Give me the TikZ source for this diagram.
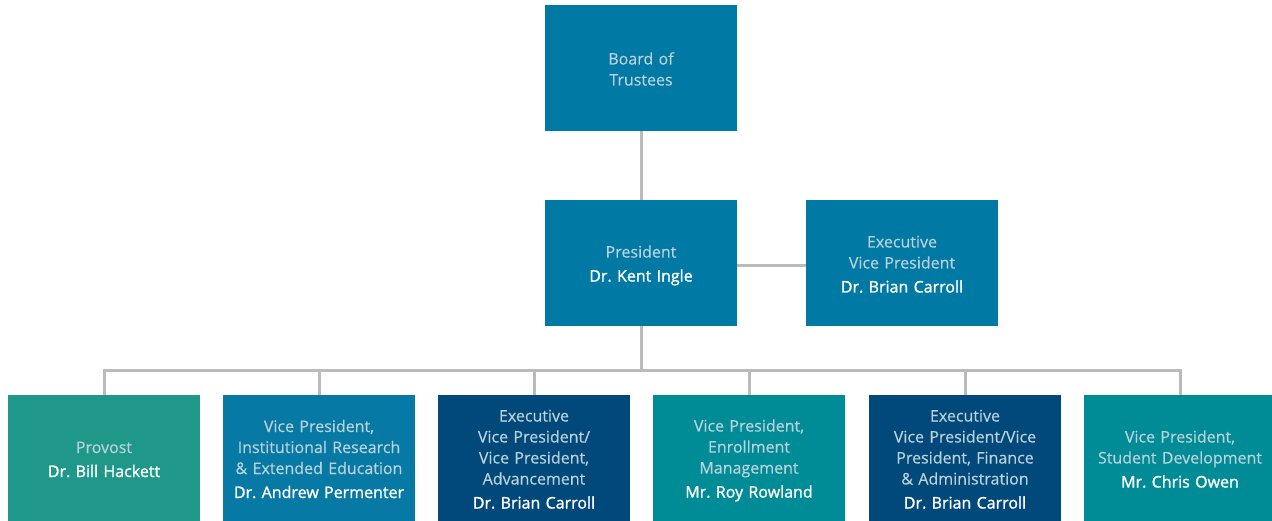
\documentclass[tikz,border=0pt]{standalone}
\usepackage{fontspec}
\setmainfont{Open Sans}[FakeBold=0.35]
\newfontfamily\namefont{Open Sans}[FakeBold=1.3]
\definecolor{topblue}{HTML}{0079A4}
\definecolor{provgreen}{HTML}{1F9889}
\definecolor{irblue}{HTML}{0679A5}
\definecolor{navy}{HTML}{00497A}
\definecolor{teal}{HTML}{008C96}
\definecolor{titlecol}{HTML}{BBD2DB}
\definecolor{linecol}{HTML}{BBBBBB}
\tikzset{
  box/.style={minimum width=192pt, minimum height=126pt, inner sep=0pt,
    text width=190pt, align=center, text=titlecol,
    font=\fontsize{16}{21}\selectfont\frenchspacing,
    execute at begin node={\rule{0pt}{17pt}},
    execute at end node={\rule[-3pt]{0pt}{3pt}}},
  conn/.style={draw=linecol, line width=3pt},
}
\newcommand{\nm}[1]{\\[3pt]{\namefont\color{white}#1}}
\begin{document}
\begin{tikzpicture}[x=1pt,y=-1pt]
\clip (0,0) rectangle (1272,521);
\fill[white] (0,0) rectangle (1272,521);
\node[box, fill=topblue] (board) at (641,68) {Board of\\Trustees};
\node[box, fill=topblue] (pres) at (641,263) {President\nm{Dr. Kent Ingle}};
\node[box, fill=topblue] (evp) at (902,263) {Executive\\Vice President\nm{Dr. Brian Carroll}};
\node[box, fill=provgreen] (prov) at (104,458) {Provost\nm{Dr. Bill Hackett}};
\node[box, fill=irblue] (vpir) at (319,458) {Vice President,\\Institutional Research\\\&~Extended Education\nm{Dr. Andrew Permenter}};
\node[box, fill=navy] (evpa) at (534,458) {Executive\\Vice President/\\Vice President,\\Advancement\nm{Dr. Brian Carroll}};
\node[box, fill=teal] (vpem) at (749,458) {Vice President,\\Enrollment\\Management\nm{Mr. Roy Rowland}};
\node[box, fill=navy] (evpf) at (965,458) {Executive\\Vice President/Vice\\President, Finance\\\&~Administration\nm{Dr. Brian Carroll}};
\node[box, fill=teal] (vpsd) at (1180,458) {Vice President,\\Student Development\nm{Mr. Chris Owen}};
\coordinate (bus) at (641,370);
\draw[conn] (board) -- (pres);
\draw[conn] (pres.east) ++(0,3) -- (evp.west |- 0,266);
\draw[conn] (pres.south) -- (bus);
\draw[conn] (prov.north) |- (bus) -| (vpsd.north);
\foreach \n in {vpir,evpa,vpem,evpf}{
  \draw[conn] (\n.north) -- (\n.north |- bus);
}
\end{tikzpicture}
\end{document}
